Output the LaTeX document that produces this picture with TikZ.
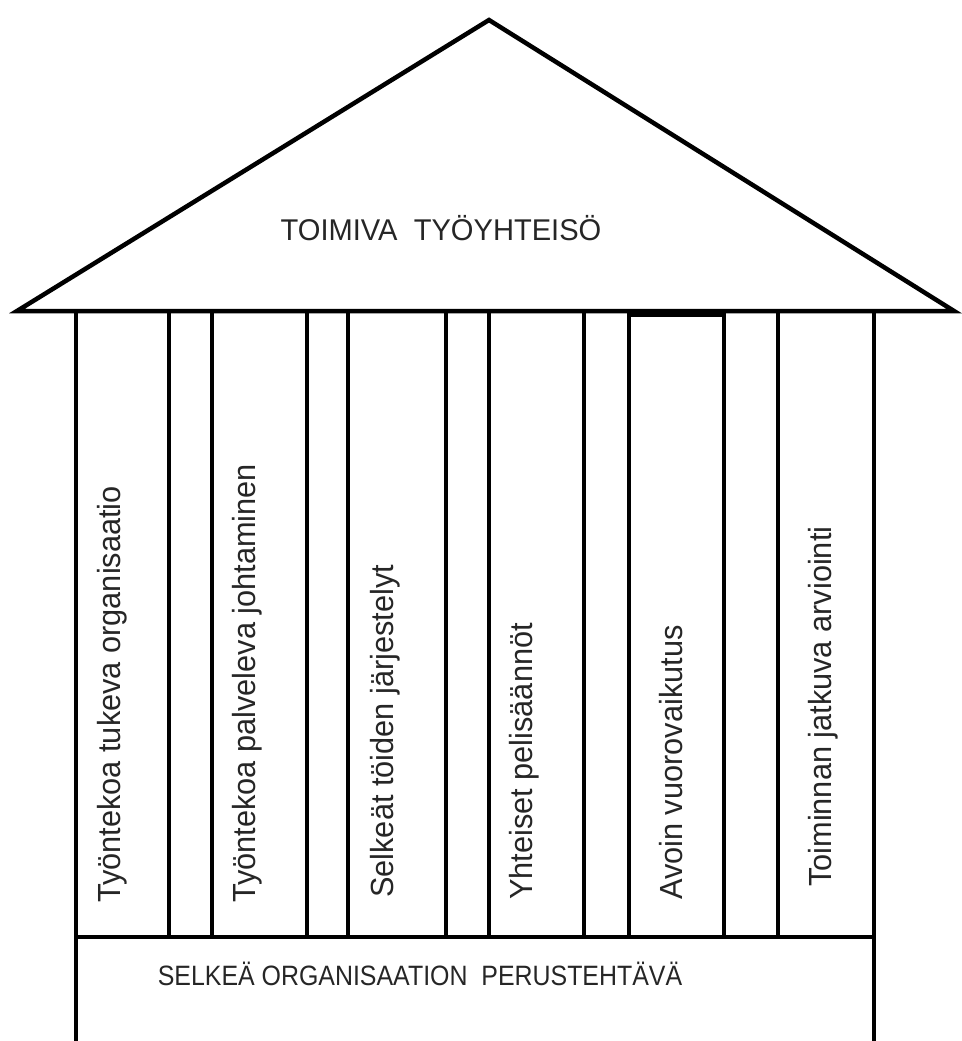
\documentclass[tikz,border=0pt]{standalone}
\usepackage{fontspec}
\setmainfont{Liberation Sans}
\begin{document}
\begin{tikzpicture}[x=1pt,y=-1pt,
  wall/.style={line width=4.5pt, line cap=butt},
  roof/.style={line width=4.5pt, line join=miter},
  pillartext/.style={rotate=90, anchor=base west, inner sep=0pt,
    font=\fontsize{32}{36}\selectfont, text=black!85},
  titletext/.style={anchor=base, inner sep=0pt, text=black!85}]
\useasboundingbox (0,0) rectangle (961,1041);
% roof
\coordinate (rl) at (17,311);
\coordinate (ra) at (489,20);
\coordinate (rr) at (954,311);
\draw[roof] (rl) -- (ra) -- (rr) -- cycle;
% pillar lines
\foreach \x in {169,212,307,348,446,489,584,629,724,778}{
  \draw[wall] (\x,311) -- (\x,937);
}
\draw[wall] (76,311) -- (76,1041);
\draw[wall] (874,311) -- (874,1041);
\draw[wall] (76,937) -- (874,937);
\draw[wall] (629,315) -- (724,315);
% texts
\node[titletext, font=\fontsize{30}{34}\selectfont] (roofname) at (441,240)
  {\scalebox{0.97}[1]{TOIMIVA\ \ TYÖYHTEISÖ}};
\node[titletext, font=\fontsize{28}{32}\selectfont] (basename) at (420,985)
  {\scalebox{0.89}[1]{SELKEÄ ORGANISAATION\ \ PERUSTEHTÄVÄ}};
\node[pillartext] (p1) at (120,903) {\scalebox{0.96}[1]{Työntekoa tukeva organisaatio}};
\node[pillartext] (p2) at (255,903) {\scalebox{0.96}[1]{Työntekoa palveleva johtaminen}};
\node[pillartext] (p3) at (393,898) {\scalebox{0.96}[1]{Selkeät töiden järjestelyt}};
\node[pillartext] (p4) at (532,900) {\scalebox{0.96}[1]{Yhteiset pelisäännöt}};
\node[pillartext] (p5) at (682,900) {\scalebox{0.96}[1]{Avoin vuorovaikutus}};
\node[pillartext] (p6) at (831,887) {\scalebox{0.96}[1]{Toiminnan jatkuva arviointi}};
\end{tikzpicture}
\end{document}
